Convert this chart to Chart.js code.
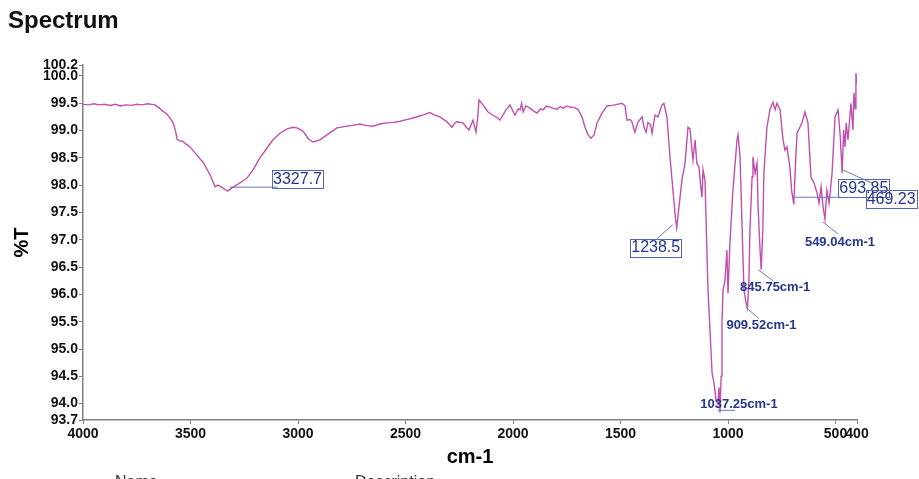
<!DOCTYPE html>
<html><head><meta charset="utf-8">
<script src="https://cdn.jsdelivr.net/npm/chart.js@4.4.0/dist/chart.umd.min.js"></script>
<style>html,body{margin:0;padding:0;background:#fff;}#wrap{width:919px;height:479px;overflow:hidden;}</style>
</head><body><div id="wrap"><canvas id="c" width="919" height="479"></canvas></div>
<script>
const wavenumbers = [4000,3975,3950,3925,3900,3875,3850,3825,3800,3775,3750,3725,3700,3680,3665,3648,3630,3609,3590,3581,3570,3562,3550,3535,3520,3502,3470,3442,3409,3386,3372,3353,3340,3327.7,3307,3270,3237,3209,3177,3144,3116,3084,3051,3023,3005,2977,2950,2930,2898,2865,2819,2772,2740,2712,2680,2651,2620,2586,2555,2526,2495,2465,2430,2400,2386,2370,2340,2307,2284,2270,2260,2233,2215,2205,2186,2172,2165,2158,2140,2116,2093,2070,2060,2037,2014,1991,1975,1967,1960,1953,1940,1921,1905,1888,1870,1860,1845,1828,1810,1795,1780,1767,1750,1735,1715,1698,1679,1665,1651,1637,1623,1609,1586,1563,1540,1526,1493,1479,1470,1455,1447,1433,1419,1400,1390,1381,1372,1360,1353,1340,1326,1307,1298,1284,1270,1256,1245,1238.5,1223,1214,1200,1186,1177,1163,1153,1145,1135,1125,1121,1116,1107,1093,1074,1065,1056,1047,1042,1037.25,1032,1028,1023,1014,1005,1000,991,977,958,953,944,935,926,916,909.52,903,898,888,884,874,865,860,852,845.75,838,833,819,805,791,781,772,758,744,735,726,712,704,693.85,688,679,667,656,642,628,614,600,586,577,567,558,549.04,540,530,516,502,488,478,469.23,462,456,450,442,428,419,414,408,405,400];
const transmittance = [99.48,99.47,99.49,99.47,99.48,99.46,99.48,99.45,99.47,99.46,99.48,99.47,99.49,99.48,99.47,99.42,99.36,99.30,99.20,99.14,99.00,98.84,98.81,98.80,98.75,98.70,98.55,98.42,98.19,97.97,98.00,97.96,97.92,97.89,97.95,98.04,98.13,98.28,98.50,98.68,98.83,98.95,99.03,99.06,99.05,98.99,98.84,98.79,98.83,98.92,99.05,99.08,99.10,99.12,99.09,99.08,99.12,99.14,99.15,99.17,99.20,99.23,99.27,99.31,99.33,99.29,99.25,99.16,99.06,99.14,99.16,99.14,99.05,99.01,99.19,98.97,99.20,99.56,99.47,99.34,99.28,99.23,99.19,99.35,99.47,99.28,99.40,99.38,99.50,99.34,99.45,99.41,99.36,99.32,99.40,99.38,99.45,99.43,99.40,99.39,99.44,99.41,99.45,99.43,99.42,99.39,99.25,99.06,98.92,98.86,98.92,99.14,99.32,99.45,99.46,99.47,99.50,99.45,99.19,99.20,99.16,98.97,99.15,99.25,99.05,98.97,99.15,99.10,98.95,99.28,99.25,99.47,99.50,99.25,98.52,97.91,97.42,97.22,97.78,98.10,98.40,99.06,99.03,98.46,98.83,98.40,98.33,97.90,97.78,98.28,98.09,96.08,94.56,94.38,94.07,94.00,94.30,93.84,94.50,95.47,96.08,96.26,96.81,96.02,96.94,97.91,98.83,98.92,98.52,97.31,96.08,95.85,95.75,96.21,97.18,98.15,98.52,98.22,98.40,97.60,96.90,96.45,97.18,98.22,99.06,99.38,99.52,99.38,99.50,99.38,98.83,98.64,98.70,98.33,97.90,97.65,98.22,98.95,99.05,99.14,99.34,99.14,98.15,98.04,97.86,97.67,97.97,97.60,97.38,97.91,97.67,98.22,99.25,99.38,98.90,98.22,99.01,98.70,99.14,98.83,99.50,99.01,99.69,99.40,100.05,99.85];
const yTickValues = [93.7,94.0,94.5,95.0,95.5,96.0,96.5,97.0,97.5,98.0,98.5,99.0,99.5,100.0,100.2];
const xTickValues = [4000,3500,3000,2500,2000,1500,1000,500,400];
const peakLabels = ['3327.7','1238.5','1037.25cm-1','909.52cm-1','845.75cm-1','693.85','469.23','549.04cm-1'];
const peakWavenumbers = [3327.7,1238.5,1037.25,909.52,845.75,693.85,469.23,549.04];
const chartTitle = 'Spectrum';
const xAxisTitle = 'cm-1';
const yAxisTitle = '%T';
const tableHeaders = ['Name','Description'];

// label placement (pixel offsets from each peak point) - style only
const annotationLayout = [
  {box:true,  dx:70,  dy:-12, l1:[2,-4],  l2:[50,-4]},
  {box:true,  dx:-21, dy:20,  l1:[-4,-3], l2:[-20,11]},
  {box:false, dx:19,  dy:-8,  l1:[-2,-2], l2:[15,-2]},
  {box:false, dx:14,  dy:17,  l1:[-2,-1], l2:[11,10]},
  {box:false, dx:14,  dy:18,  l1:[-3,0],  l2:[12,11]},
  {box:true,  dx:70,  dy:-16, l1:[1,-7],  l2:[44,-7]},
  {box:true,  dx:49,  dy:26,  l1:[1,-3],  l2:[30,10]},
  {box:false, dx:15,  dy:23,  l1:[-2,3],  l2:[13,15]}
];

const FONT = '"Liberation Sans", Arial, Helvetica, sans-serif';
Chart.defaults.font.family = FONT;

const points = wavenumbers.map((w, i) => ({x: w, y: transmittance[i]}));

const peakPlugin = {
  id: 'peakLabels',
  afterDatasetsDraw(chart) {
    const {ctx, scales: {x, y}} = chart;
    ctx.save();
    peakLabels.forEach((txt, i) => {
      const wn = peakWavenumbers[i];
      const idx = wavenumbers.indexOf(wn);
      const ax = x.getPixelForValue(wn);
      const ay = y.getPixelForValue(transmittance[idx]);
      const L = annotationLayout[i];
      ctx.strokeStyle = '#6878c0';
      ctx.lineWidth = 1;
      ctx.beginPath();
      ctx.moveTo(ax + L.l1[0], ay + L.l1[1]);
      ctx.lineTo(ax + L.l2[0], ay + L.l2[1]);
      ctx.stroke();
      ctx.font = L.box ? '16px ' + FONT : 'bold 13px ' + FONT;
      ctx.textAlign = 'center';
      ctx.textBaseline = 'middle';
      const cx = ax + L.dx, cy = ay + L.dy;
      ctx.fillStyle = '#26368c';
      ctx.fillText(txt, cx, cy);
      if (L.box) {
        const w = ctx.measureText(txt).width;
        ctx.strokeStyle = '#5566b3';
        ctx.strokeRect(Math.round(cx - w / 2 - 1) + 0.5, Math.round(cy - 9) + 0.5, Math.round(w + 2), 18);
      }
    });
    ctx.restore();
  }
};

const footerPlugin = {
  id: 'footerText',
  afterDraw(chart) {
    const ctx = chart.ctx;
    ctx.save();
    ctx.font = '16px ' + FONT;
    ctx.fillStyle = '#333';
    ctx.textAlign = 'left';
    ctx.textBaseline = 'alphabetic';
    ctx.fillText(tableHeaders[0], 115, 487);
    ctx.fillText(tableHeaders[1], 355, 487);
    ctx.restore();
  }
};

new Chart(document.getElementById('c'), {
  type: 'line',
  data: {
    datasets: [{
      data: points,
      borderColor: '#c24fae',
      borderWidth: 1.4,
      pointRadius: 0,
      tension: 0,
      fill: false
    }]
  },
  options: {
    responsive: false,
    animation: false,
    devicePixelRatio: 1,
    layout: {padding: {left: 8, right: 62, top: 0, bottom: 0}},
    plugins: {
      legend: {display: false},
      tooltip: {enabled: false},
      title: {
        display: true, text: chartTitle, align: 'start', color: '#111',
        font: {size: 24, weight: 'bold'},
        padding: {top: 7, bottom: 29.2}
      }
    },
    scales: {
      x: {
        type: 'linear', reverse: true, min: 400, max: 4000,
        afterBuildTicks: s => { s.ticks = xTickValues.map(v => ({value: v})); },
        afterFit: s => { s.height = 59; },
        ticks: {autoSkip: false, maxRotation: 0, minRotation: 0, padding: 2, color: '#111',
          font: {size: 14, weight: 'bold'}, callback: v => String(v)},
        grid: {display: true, drawOnChartArea: false, drawTicks: true, tickLength: 4, color: '#808080'},
        border: {display: true, color: '#808080', width: 1.5},
        title: {display: true, text: xAxisTitle, color: '#000', font: {size: 20, weight: 'bold'},
          padding: {top: 0, bottom: 10}}
      },
      y: {
        type: 'linear', min: 93.7, max: 100.2,
        afterBuildTicks: s => { s.ticks = yTickValues.map(v => ({value: v})); },
        afterFit: s => { s.width = 75; },
        ticks: {autoSkip: false, padding: 1, color: '#111', font: {size: 14, weight: 'bold'},
          callback: v => Number(v).toFixed(1)},
        grid: {display: true, drawOnChartArea: false, drawTicks: true, tickLength: 4, color: '#808080'},
        border: {display: true, color: '#808080', width: 1.5},
        title: {display: true, text: yAxisTitle, color: '#000', font: {size: 20, weight: 'bold'},
          padding: {top: 2, bottom: 0}}
      }
    }
  },
  plugins: [peakPlugin, footerPlugin]
});
</script>
</body></html>
